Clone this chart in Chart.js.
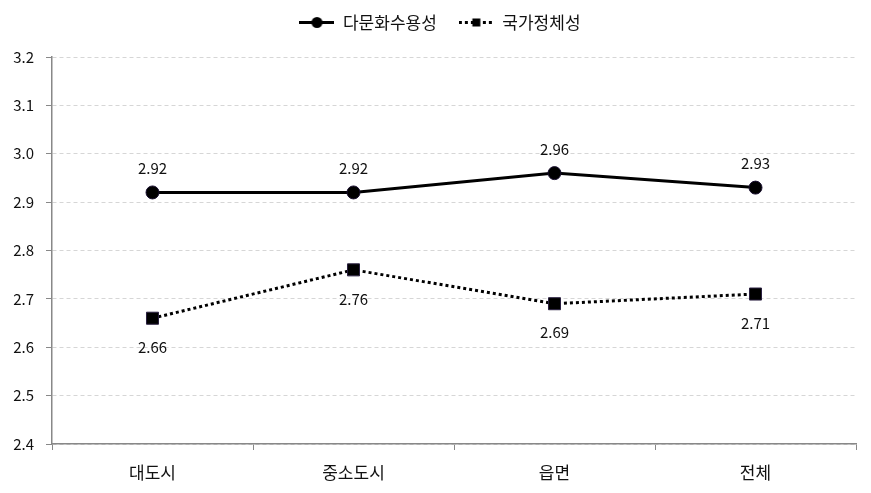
<!DOCTYPE html>
<html>
<head>
<meta charset="utf-8">
<script src="https://cdn.jsdelivr.net/npm/chart.js@4/dist/chart.umd.min.js"></script>
<style>
  html, body { margin: 0; padding: 0; background: #fff; }
  #wrap { width: 871px; height: 493px; position: relative; }
</style>
</head>
<body>
<div id="wrap"><canvas id="lineChart"></canvas></div>
<script>
// Data
const regions = ['대도시', '중소도시', '읍면', '전체'];
const multiculturalAcceptance = [2.92, 2.92, 2.96, 2.93];
const nationalIdentity = [2.66, 2.76, 2.69, 2.71];
const seriesNames = ['다문화수용성', '국가정체성'];

const FONT = '"Noto Sans CJK KR", "Noto Sans", sans-serif';

// Build small legend icons: line with marker
function legendIcon(dashed, square) {
    const c = document.createElement('canvas');
    c.width = 35; c.height = 13;
    const g = c.getContext('2d');
    g.strokeStyle = '#000';
    g.lineWidth = 3;
    if (dashed) g.setLineDash([3, 3]);
    g.beginPath();
    g.moveTo(0, 6.5); g.lineTo(35, 6.5);
    g.stroke();
    g.fillStyle = '#000';
    if (square) {
        g.fillRect(13.5, 2.5, 8, 8);
    } else {
        g.beginPath();
        g.arc(17.5, 6.5, 5.5, 0, Math.PI * 2);
        g.fill();
    }
    return c;
}
const icons = [legendIcon(false, false), legendIcon(true, true)];

// Value labels above / below the points
const valueLabels = {
    id: 'valueLabels',
    afterDatasetsDraw(chart) {
        const ctx = chart.ctx;
        ctx.save();
        ctx.font = '15px ' + FONT;
        ctx.fillStyle = '#111';
        ctx.textAlign = 'center';
        ctx.textBaseline = 'middle';
        chart.data.datasets.forEach((ds, i) => {
            const meta = chart.getDatasetMeta(i);
            meta.data.forEach((pt, j) => {
                const dy = i === 0 ? -24 : 29;
                ctx.fillText(ds.data[j].toFixed(2), pt.x, pt.y + dy);
            });
        });
        ctx.restore();
    }
};

// Extra room between the legend and the plot, and nudge it right a bit
const legendGap = {
    id: 'legendGap',
    beforeLayout(chart) {
        const lg = chart.legend;
        if (lg && !lg._gapPatched) {
            const fit = lg.fit;
            lg.fit = function() {
                fit.call(this);
                this.height += 16;
            };
            lg._gapPatched = true;
        }
    },
    afterLayout(chart) {
        if (chart.legend) {
            chart.legend.left += 12;
            chart.legend.right += 12;
        }
    }
};

new Chart(document.getElementById('lineChart').getContext('2d'), {
    type: 'line',
    data: {
        labels: regions,
        datasets: [{
            label: seriesNames[0],
            data: multiculturalAcceptance,
            borderColor: '#000',
            backgroundColor: '#000',
            borderWidth: 3,
            pointStyle: 'circle',
            pointRadius: 6.5,
            pointBorderColor: '#1a1030',
            pointBorderWidth: 1,
            tension: 0
        }, {
            label: seriesNames[1],
            data: nationalIdentity,
            borderColor: '#000',
            backgroundColor: '#000',
            borderWidth: 3,
            borderDash: [3, 3],
            pointStyle: 'rect',
            pointRadius: 8.5,
            pointBorderColor: '#2a2040',
            pointBorderWidth: 1,
            tension: 0
        }]
    },
    options: {
        responsive: true,
        maintainAspectRatio: false,
        animation: false,
        layout: { padding: { top: -8, right: 15, left: 0, bottom: 0 } },
        plugins: {
            tooltip: { enabled: false },
            legend: {
                position: 'top',
                labels: {
                    usePointStyle: true,
                    pointStyleWidth: 35,
                    padding: 22,
                    color: '#111',
                    font: { family: FONT, size: 17 },
                    generateLabels(chart) {
                        return chart.data.datasets.map((ds, i) => ({
                            text: ds.label,
                            pointStyle: icons[i],
                            fillStyle: '#000',
                            strokeStyle: '#000',
                            lineWidth: 0,
                            fontColor: '#111',
                            datasetIndex: i
                        }));
                    }
                }
            }
        },
        scales: {
            x: {
                offset: true,
                grid: {
                    offset: true,
                    drawOnChartArea: false,
                    drawTicks: true,
                    tickLength: 6,
                    tickColor: '#888'
                },
                border: { color: '#888', width: 1.5 },
                ticks: {
                    color: '#111',
                    padding: 12,
                    font: { family: FONT, size: 17 }
                },
                afterFit(scale) { scale.height = 49; }
            },
            y: {
                min: 2.4,
                max: 3.2,
                grid: {
                    color: '#d6d6d6',
                    tickColor: '#888',
                    tickLength: 6,
                    tickBorderDash: []
                },
                border: { color: '#888', width: 1.5, dash: [4, 3] },
                ticks: {
                    stepSize: 0.1,
                    color: '#111',
                    padding: 12,
                    font: { family: FONT, size: 15 },
                    callback: v => v.toFixed(1)
                },
                afterFit(scale) { scale.width = 52; }
            }
        }
    },
    plugins: [valueLabels, legendGap]
});
</script>
</body>
</html>
